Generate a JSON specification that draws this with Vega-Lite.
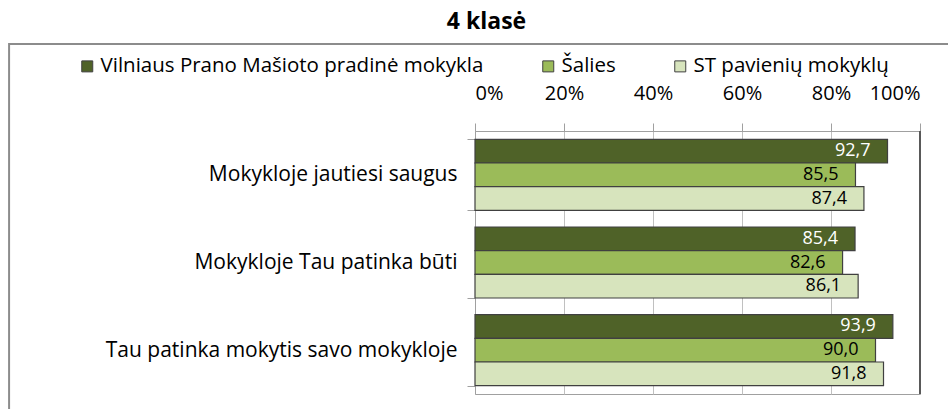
{
  "$schema": "https://vega.github.io/schema/vega-lite/v6.json",
  "autosize": {"type": "none"},
  "padding": {"left": 475, "top": 131, "right": 28, "bottom": 15},
  "width": 445,
  "height": 263,
  "title": {"text": "4 klasė", "fontSize": 23, "fontWeight": "bold", "font": "Open Sans", "color": "#000000", "anchor": "middle", "dx": -211, "offset": 9},
  "config": {
    "font": "Open Sans",
    "view": {"stroke": "#a0a0a0", "strokeWidth": 1}
  },
  "datasets": {
    "bars": [
      {"cat": "Mokykloje jautiesi saugus", "series": "Vilniaus Prano Mašioto pradinė mokykla", "v": 92.7},
      {"cat": "Mokykloje jautiesi saugus", "series": "Šalies", "v": 85.5},
      {"cat": "Mokykloje jautiesi saugus", "series": "ST pavienių mokyklų", "v": 87.4},
      {"cat": "Mokykloje Tau patinka būti", "series": "Vilniaus Prano Mašioto pradinė mokykla", "v": 85.4},
      {"cat": "Mokykloje Tau patinka būti", "series": "Šalies", "v": 82.6},
      {"cat": "Mokykloje Tau patinka būti", "series": "ST pavienių mokyklų", "v": 86.1},
      {"cat": "Tau patinka mokytis savo mokykloje", "series": "Vilniaus Prano Mašioto pradinė mokykla", "v": 93.9},
      {"cat": "Tau patinka mokytis savo mokykloje", "series": "Šalies", "v": 90.0},
      {"cat": "Tau patinka mokytis savo mokykloje", "series": "ST pavienių mokyklų", "v": 91.8}
    ]
  },
  "layer": [
    {
      "data": {"values": [{"box": "frame"}]},
      "mark": {"type": "rect", "fill": "#ffffff", "fillOpacity": 0, "stroke": "#8c8c8c", "strokeWidth": 2, "clip": false},
      "encoding": {
        "x": {"datum": -104.7, "type": "quantitative", "scale": {"domain": [0, 100]}},
        "x2": {"datum": 112},
        "y": {"datum": 1.331, "type": "quantitative", "scale": {"domain": [0, 1]}, "axis": null},
        "y2": {"datum": -0.3}
      }
    },
    {
      "data": {"name": "bars"},
      "mark": {"type": "bar", "stroke": "#404040", "strokeWidth": 1.2},
      "encoding": {
        "y": {
          "field": "cat", "type": "nominal",
          "sort": ["Mokykloje jautiesi saugus", "Mokykloje Tau patinka būti", "Tau patinka mokytis savo mokykloje"],
          "scale": {"paddingInner": 0.19, "paddingOuter": 0.095},
          "axis": {"title": null, "tickBand": "extent", "tickSize": 8, "labelPadding": 10, "labelFontSize": 21, "labelColor": "#000000", "labelLimit": 500, "domainColor": "#a0a0a0", "tickColor": "#a0a0a0", "grid": false}
        },
        "yOffset": {
          "field": "series", "type": "nominal",
          "sort": ["Vilniaus Prano Mašioto pradinė mokykla", "Šalies", "ST pavienių mokyklų"],
          "scale": {"paddingInner": 0, "paddingOuter": 0}
        },
        "x": {
          "field": "v", "type": "quantitative",
          "scale": {"domain": [0, 100]},
          "axis": {"orient": "top", "title": null, "values": [0, 20, 40, 60, 80, 100], "labelExpr": "datum.value + '%'", "labelFontSize": 20, "labelColor": "#000000", "labelPadding": 20, "tickSize": 8, "tickColor": "#a0a0a0", "domainColor": "#a0a0a0", "grid": true, "gridColor": "#c0c0c0"}
        },
        "color": {
          "field": "series", "type": "nominal",
          "sort": ["Vilniaus Prano Mašioto pradinė mokykla", "Šalies", "ST pavienių mokyklų"],
          "scale": {"domain": ["Vilniaus Prano Mašioto pradinė mokykla", "Šalies", "ST pavienių mokyklų"], "range": ["#4f6228", "#9bbb59", "#d7e4bd"]},
          "legend": {
            "title": null, "orient": "none", "direction": "horizontal", "legendX": -398, "legendY": -75,
            "symbolType": "square", "symbolSize": 121, "symbolStrokeColor": "#404040", "symbolStrokeWidth": 1,
            "labelFontSize": 20.5, "labelColor": "#000000", "labelOffset": 3, "columnPadding": 54, "labelLimit": 600
          }
        }
      }
    },
    {
      "data": {"name": "bars"},
      "transform": [{"calculate": "replace(format(datum.v, '.1f'), '.', ',')", "as": "label"}],
      "mark": {"type": "text", "align": "right", "baseline": "middle", "dx": -17, "fontSize": 18},
      "encoding": {
        "y": {
          "field": "cat", "type": "nominal",
          "sort": ["Mokykloje jautiesi saugus", "Mokykloje Tau patinka būti", "Tau patinka mokytis savo mokykloje"],
          "scale": {"paddingInner": 0.19, "paddingOuter": 0.095},
          "axis": null
        },
        "yOffset": {
          "field": "series", "type": "nominal",
          "sort": ["Vilniaus Prano Mašioto pradinė mokykla", "Šalies", "ST pavienių mokyklų"],
          "scale": {"paddingInner": 0, "paddingOuter": 0}
        },
        "x": {"field": "v", "type": "quantitative", "scale": {"domain": [0, 100]}},
        "text": {"field": "label"},
        "color": {
          "condition": {"test": "datum.series == 'Vilniaus Prano Mašioto pradinė mokykla'", "value": "#ffffff"},
          "value": "#000000"
        }
      }
    },
    {
      "data": {"values": [{"edge": "right"}]},
      "mark": {"type": "rule", "color": "#595959", "strokeWidth": 2},
      "encoding": {"x": {"datum": 100, "type": "quantitative", "scale": {"domain": [0, 100]}}}
    }
  ],
  "resolve": {"scale": {"y": "independent"}}
}
